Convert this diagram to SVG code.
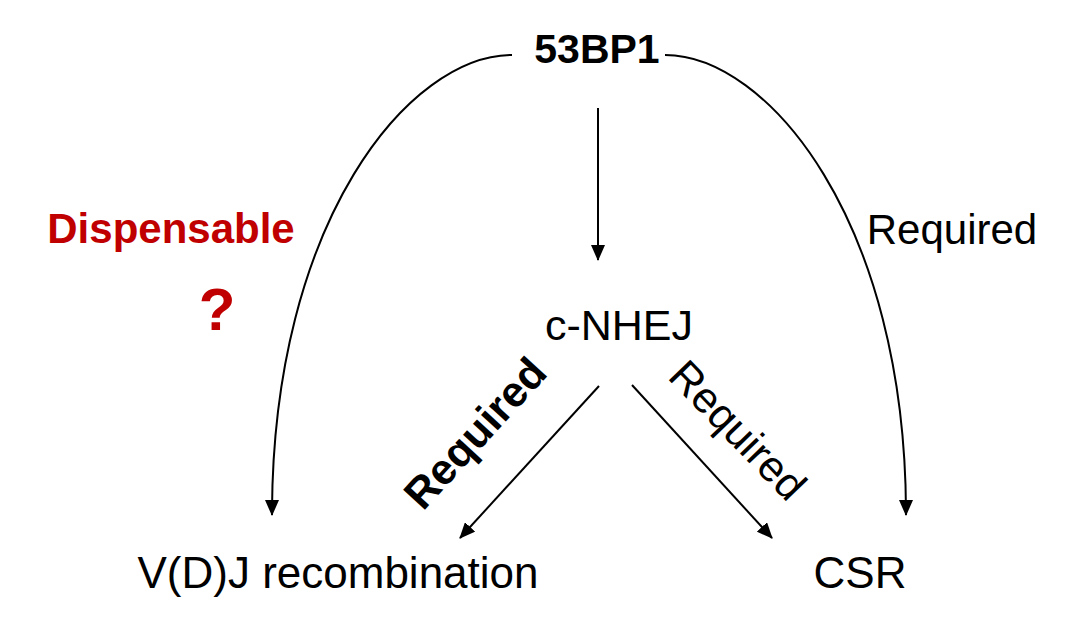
<svg xmlns="http://www.w3.org/2000/svg" width="1078" height="636" viewBox="0 0 1078 636">
<defs>
<marker id="ah" viewBox="0 0 16 14" refX="15" refY="7" markerWidth="16" markerHeight="14" markerUnits="userSpaceOnUse" orient="auto">
<path d="M0,0 L16,7 L0,14 Z" fill="#000"/>
</marker>
</defs>
<style>
text{font-family:"Liberation Sans",Arial,sans-serif;fill:#000}
.b{font-weight:bold}
.red{fill:#c00000;font-weight:bold}
.c{stroke:#000;stroke-width:2;fill:none;marker-end:url(#ah)}
</style>
<rect width="1078" height="636" fill="#fff"/>
<g id="connectors">
<path class="c" d="M512,55 C410,55 272,220 272,515"/>
<path class="c" d="M665,55 C767,55 906,220 906,515"/>
<path class="c" d="M598,108 L598,260"/>
<path class="c" d="M599,386 L460,538"/>
<path class="c" d="M632,385 L772,538"/>
</g>
<g id="n53BP1"><text class="b" x="597" y="63" font-size="41" text-anchor="middle">53BP1</text></g>
<g id="cNHEJ"><text x="619" y="340" font-size="43" text-anchor="middle">c-NHEJ</text></g>
<g id="VDJ"><text x="338" y="588" font-size="44" text-anchor="middle">V(D)J recombination</text></g>
<g id="CSR"><text x="860" y="588" font-size="44" text-anchor="middle">CSR</text></g>
<g id="labelDispensable"><text class="red" x="171" y="243" font-size="42" text-anchor="middle">Dispensable</text>
<text class="red" x="217" y="330" font-size="60" text-anchor="middle">?</text></g>
<g id="labelRequiredRight"><text x="952" y="244" font-size="42" text-anchor="middle">Required</text></g>
<g id="labelRequiredLeft"><text class="b" transform="translate(475,433) rotate(-47.5)" x="0" y="15" font-size="43" text-anchor="middle">Required</text></g>
<g id="labelRequiredMid"><text transform="translate(738,430) rotate(46)" x="0" y="15" font-size="43" text-anchor="middle">Required</text></g>
</svg>
